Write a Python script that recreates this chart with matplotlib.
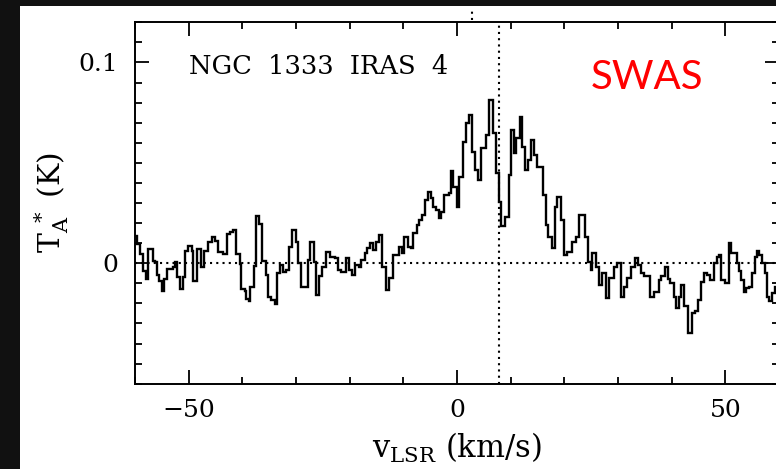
import matplotlib
matplotlib.use("Agg")
import matplotlib.pyplot as plt
from matplotlib.patches import Rectangle
from matplotlib.ticker import MultipleLocator

# channel left edges (km/s) and antenna temperature (K)
v_left = [
    -60.0, -59.57, -59.07, -58.45, -57.95, -57.52, -56.71, -56.28, -55.97, -55.47,
    -55.04, -54.54, -54.11, -52.99, -52.56, -52.13, -51.63, -51.13, -50.70, -50.08,
    -49.46, -49.15, -48.53, -47.79, -47.17, -46.36, -45.74, -45.12, -44.50, -43.57,
    -42.95, -42.33, -41.71, -41.21, -40.47, -40.16, -39.54, -39.23, -38.73, -38.49,
    -37.87, -37.49, -36.87, -36.25, -35.63, -35.20, -34.58, -33.96, -33.53, -32.91,
    -32.41, -31.79, -31.29, -30.67, -30.05, -29.62, -29.00, -27.76, -27.33, -26.71,
    -26.21, -25.71, -25.09, -24.35, -23.73, -22.80, -22.18, -21.56, -20.75, -20.13,
    -19.51, -19.08, -18.27, -17.84, -17.22, -16.79, -16.29, -15.67, -15.17, -14.55,
    -13.93, -13.31, -12.69, -11.90, -10.72, -10.22, -9.79, -9.17, -8.55, -8.12,
    -7.50, -7.00, -6.50, -5.88, -5.45, -4.83, -4.52, -3.90, -3.40, -2.97,
    -2.35, -1.55, -1.11, -0.68, -0.06, 0.44, 1.06, 1.68, 2.30, 2.80,
    3.42, 3.85, 4.47, 5.40, 6.02, 6.64, 7.26, 7.76, 8.19, 9.00,
    9.62, 10.03, 10.65, 11.08, 11.70, 12.20, 12.70, 13.32, 13.75, 14.37,
    14.99, 16.00, 16.54, 17.04, 17.66, 18.28, 18.71, 19.33, 19.95, 20.57,
    21.50, 22.12, 22.74, 23.86, 24.48, 24.91, 25.22, 25.84, 26.46, 27.08,
    27.70, 28.32, 29.25, 29.87, 30.49, 31.11, 31.73, 32.35, 33.16, 33.78,
    34.21, 34.83, 35.88, 36.69, 37.60, 38.10, 38.72, 39.34, 39.77, 40.39,
    40.82, 41.32, 41.82, 42.25, 43.06, 43.80, 44.42, 44.92, 45.54, 45.97,
    46.59, 47.21, 47.83, 48.45, 48.76, 49.26, 49.88, 50.62, 51.12, 52.17,
    52.48, 52.98, 53.41, 53.84, 54.46, 54.96, 55.46, 55.89, 56.32, 56.82,
    57.31, 57.75, 58.19, 58.68, 59.20,
]
ta = [
    0.0138, 0.0096, 0.0046, -0.0037, -0.0078, 0.0071, 0.0013, 0.0005, -0.0061, -0.0086,
    -0.0136, -0.0078, -0.0028, -0.0020, 0.0005, -0.0070, -0.0128, -0.0070, 0.0063, 0.0088,
    0.0063, -0.0086, 0.0071, -0.0020, 0.0063, 0.0105, 0.0133, 0.0113, 0.0055, 0.0046,
    0.0146, 0.0154, 0.0166, 0.0046, -0.0003, -0.0128, -0.0136, -0.0178, -0.0186, -0.0120,
    -0.0012, 0.0237, 0.0196, 0.0013, -0.0058, -0.0166, -0.0183, -0.0203, -0.0050, -0.0008,
    -0.0042, -0.0033, 0.0083, 0.0166, 0.0108, 0.0000, -0.0116, 0.0017, 0.0108, 0.0008,
    -0.0158, -0.0066, -0.0017, 0.0058, 0.0033, 0.0025, -0.0033, -0.0042, 0.0025, -0.0033,
    -0.0058, -0.0008, -0.0020, 0.0017, 0.0050, 0.0075, 0.0100, 0.0066, 0.0108, 0.0141,
    -0.0017, -0.0133, -0.0075, 0.0042, 0.0083, 0.0050, 0.0129, 0.0083, 0.0075, 0.0149,
    0.0191, 0.0216, 0.0241, 0.0315, 0.0357, 0.0324, 0.0282, 0.0266, 0.0224, 0.0257,
    0.0340, 0.0349, 0.0457, 0.0382, 0.0282, 0.0428, 0.0606, 0.0697, 0.0739, 0.0556,
    0.0465, 0.0415, 0.0573, 0.0639, 0.0813, 0.0647, 0.0448, 0.0307, 0.0183, 0.0232,
    0.0440, 0.0664, 0.0548, 0.0623, 0.0730, 0.0581, 0.0465, 0.0515, 0.0614, 0.0540,
    0.0481, 0.0340, 0.0190, 0.0132, 0.0075, 0.0282, 0.0331, 0.0215, 0.0041, 0.0058,
    0.0108, 0.0132, 0.0240, 0.0132, 0.0008, -0.0033, 0.0050, -0.0017, -0.0108, -0.0050,
    -0.0174, -0.0075, -0.0017, 0.0000, -0.0166, -0.0116, -0.0075, -0.0017, 0.0025, -0.0008,
    -0.0050, -0.0066, -0.0166, -0.0141, -0.0083, -0.0066, -0.0020, -0.0079, -0.0099, -0.0166,
    -0.0224, -0.0166, -0.0108, -0.0215, -0.0348, -0.0248, -0.0240, -0.0182, -0.0091, -0.0050,
    -0.0058, -0.0083, 0.0000, 0.0033, 0.0041, -0.0083, -0.0099, 0.0099, 0.0050, 0.0000,
    -0.0041, -0.0083, -0.0141, -0.0124, -0.0116, -0.0050, 0.0033, 0.0061, 0.0041, 0.0000,
    -0.0050, -0.0166, -0.0190, -0.0149, -0.0120,
]
v_right = 60.0
v_source = 7.9      # dotted vertical marker
v_top_mark = 2.8    # small dotted mark above the frame

plt.rcParams['font.family'] = 'DejaVu Serif'
plt.rcParams['mathtext.fontset'] = 'dejavuserif'

fig = plt.figure(figsize=(7.76, 4.69), dpi=100, facecolor='#111111')
fig.add_artist(Rectangle((20 / 776, 0), 1, 463 / 469, transform=fig.transFigure,
                         facecolor='white', edgecolor='none', zorder=-1))
ax = fig.add_axes([135 / 776, 85.3 / 469, 644 / 776, 361.4 / 469])

dots = (0, (1, 2))
ax.stairs(ta, v_left + [v_right], baseline=None, color='black', lw=1.7)
ax.axhline(0, color='black', lw=1.5, ls=dots)
ax.axvline(v_source, color='black', lw=1.5, ls=dots)
ax.plot([v_top_mark, v_top_mark], [0.1209, 0.1268], color='black', lw=1.5,
        ls=dots, clip_on=False)

ax.set_xlim(-60, 60)
ax.set_ylim(-0.06, 0.12)
ax.xaxis.set_major_locator(MultipleLocator(50))
ax.xaxis.set_minor_locator(MultipleLocator(10))
ax.yaxis.set_major_locator(MultipleLocator(0.1))
ax.yaxis.set_minor_locator(MultipleLocator(0.01))
ax.yaxis.set_major_formatter(plt.FuncFormatter(lambda y, p: '0' if abs(y) < 1e-9 else f'{y:g}'))
ax.tick_params(which='both', direction='in', top=True, right=True, width=1.3,
               labelsize=18)
ax.tick_params(which='major', length=10)
ax.tick_params(which='minor', length=5)
ax.tick_params(axis='x', pad=11)
ax.tick_params(axis='y', pad=12)
for s in ax.spines.values():
    s.set_linewidth(1.4)

ax.set_xlabel(r'v$_{\mathrm{LSR}}$ (km/s)', fontsize=22)
ax.set_ylabel(r'T$_{\mathrm{A}}^{\ *}$ (K)', fontsize=21.5)
ax.xaxis.set_label_coords(0.5, -0.13)
ax.yaxis.set_label_coords(-0.10, 0.5)

ax.text(-50, 0.0944, 'NGC  1333  IRAS  4', fontsize=18.5, va='baseline')
ax.text(25.0, 0.0866, 'SWAS', fontsize=29, color='#ff0000', family='Lato',
        va='baseline')

fig.savefig('out.png', dpi=100)
